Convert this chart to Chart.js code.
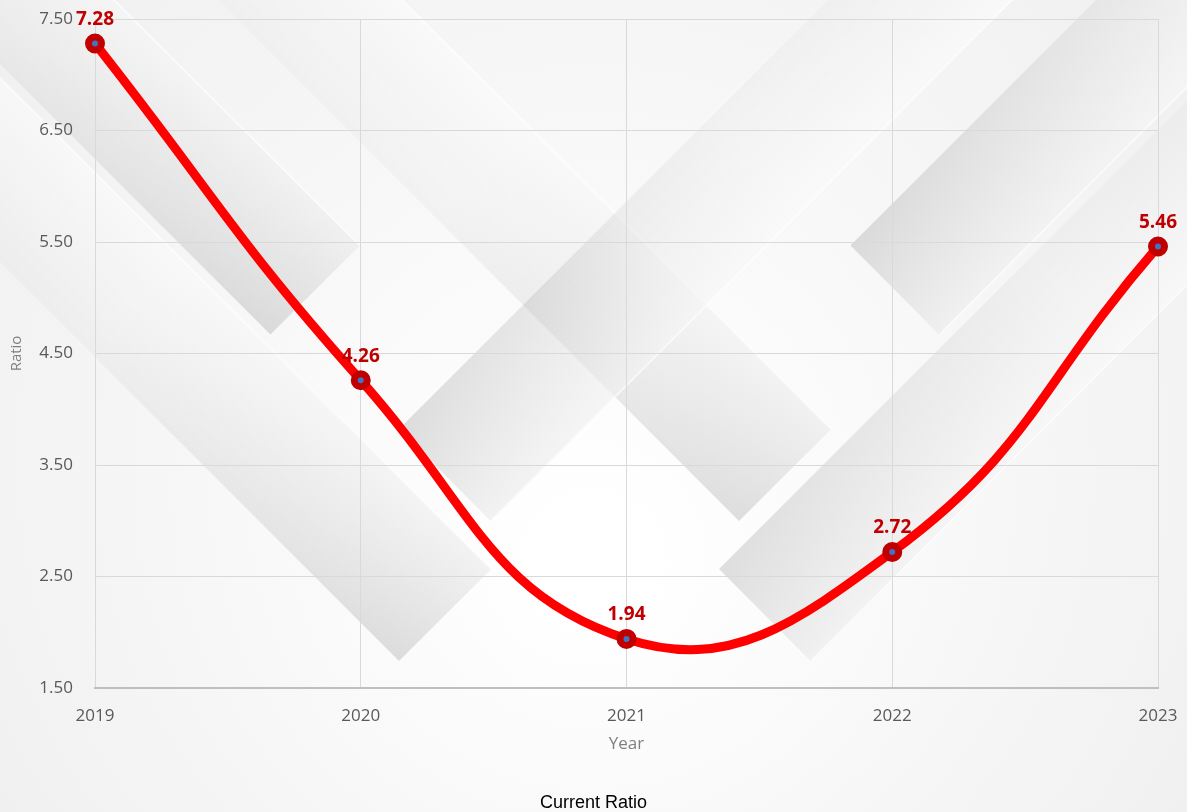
<!DOCTYPE html>
<html>
<head>
<meta charset="utf-8">
<script src="https://cdn.jsdelivr.net/npm/chart.js@4/dist/chart.umd.min.js"></script>
<style>
  html, body { margin: 0; padding: 0; background: #f6f6f6; }
  #wrap { width: 1187px; height: 812px; }
</style>
</head>
<body>
<div id="wrap"><canvas id="ratioChart"></canvas></div>
<script>
const years = ["2019", "2020", "2021", "2022", "2023"];
const currentRatio = [7.28, 4.26, 1.94, 2.72, 5.46];
const yMin = 1.5;
const yMax = 7.5;
const yStep = 1;

// diagonal bands behind the plot: [end x, end y, direction (deg), width]
const bands = [
  [315, 290, 45, 126],
  [445, 615, 45, 130],
  [785, 475, 45, 130],
  [895, 290, 135, 126],
  [765, 615, 135, 130],
  [445, 475, 135, 130]
];

const backdrop = {
  id: "backdrop",
  beforeDraw(chart) {
    const { ctx, width, height } = chart;
    ctx.save();
    const base = ctx.createRadialGradient(width / 2, height * 0.7, 50, width / 2, height / 2, 800);
    base.addColorStop(0, "#ffffff");
    base.addColorStop(1, "#eeeeee");
    ctx.fillStyle = base;
    ctx.fillRect(0, 0, width, height);

    bands.forEach(([x, y, deg, w]) => {
      const len = 1100;
      ctx.save();
      ctx.translate(x, y);
      ctx.rotate(deg * Math.PI / 180);
      const g = ctx.createLinearGradient(-len, 0, 0, 0);
      g.addColorStop(0, "rgba(120,120,120,0)");
      g.addColorStop(0.6, "rgba(120,120,120,0.05)");
      g.addColorStop(1, "rgba(110,110,110,0.22)");
      ctx.fillStyle = g;
      ctx.fillRect(-len, -w / 2, len, w);
      const s = ctx.createLinearGradient(0, -w / 2, 0, w / 2);
      s.addColorStop(0, "rgba(255,255,255,0.6)");
      s.addColorStop(1, "rgba(255,255,255,0)");
      ctx.fillStyle = s;
      ctx.fillRect(-len, -w / 2, len, w);
      ctx.strokeStyle = "rgba(255,255,255,0.6)";
      ctx.lineWidth = 2;
      ctx.beginPath();
      ctx.moveTo(-len, -w / 2);
      ctx.lineTo(0, -w / 2);
      ctx.stroke();
      ctx.restore();
    });
    ctx.restore();
  }
};

// value labels above each point
const valueLabels = {
  id: "valueLabels",
  afterDatasetsDraw(chart) {
    const { ctx } = chart;
    const meta = chart.getDatasetMeta(0);
    ctx.save();
    ctx.font = "bold 19px 'Open Sans'";
    ctx.fillStyle = "#c00000";
    ctx.textAlign = "center";
    ctx.textBaseline = "middle";
    meta.data.forEach((pt, i) => {
      ctx.fillText(currentRatio[i].toFixed(2), pt.x, pt.y - 24);
    });
    ctx.restore();
  }
};

Chart.defaults.font.family = "'Open Sans', sans-serif";

new Chart(document.getElementById("ratioChart"), {
  type: "line",
  data: {
    labels: years,
    datasets: [{
      label: "Current Ratio",
      data: currentRatio,
      borderColor: "#ff0000",
      borderWidth: 9,
      tension: 0.45,
      pointRadius: 6.5,
      pointBorderWidth: 7,
      pointBackgroundColor: "#4472c4",
      pointBorderColor: "#c00000",
      fill: false
    }]
  },
  options: {
    responsive: true,
    maintainAspectRatio: false,
    animation: false,
    layout: { autoPadding: false, padding: { left: 0, right: 0, top: 19, bottom: 0 } },
    plugins: {
      legend: { display: false },
      tooltip: { enabled: false },
      title: {
        display: true,
        text: "Current Ratio",
        position: "bottom",
        color: "#000000",
        font: { family: "'Liberation Sans', Arial, sans-serif", size: 18, weight: "normal", lineHeight: 1 },
        padding: { top: 12, bottom: 0 }
      }
    },
    scales: {
      x: {
        offset: false,
        grid: { color: "#d9d9d9", lineWidth: 1, drawTicks: true, tickLength: 14, tickColor: "rgba(0,0,0,0)" },
        border: { color: "#bfbfbf", width: 2 },
        ticks: { color: "#595959", font: { size: 17 }, padding: 4 },
        title: {
          display: true,
          text: "Year",
          color: "#7f7f7f",
          font: { size: 17 },
          padding: { top: 10, bottom: 28 }
        },
        afterFit(s) { s.height = 94; }
      },
      y: {
        min: yMin,
        max: yMax,
        grid: { color: "#d9d9d9", lineWidth: 1, drawTicks: true, tickLength: 18, tickColor: "rgba(0,0,0,0)" },
        border: { display: false },
        ticks: {
          stepSize: yStep,
          color: "#595959",
          font: { size: 17 },
          padding: 4,
          callback: v => v.toFixed(2)
        },
        title: {
          display: true,
          text: "Ratio",
          color: "#7f7f7f",
          font: { size: 15 },
          padding: { top: 8, bottom: 0 }
        },
        afterFit(s) { s.width = 95; }
      },
      // empty strip on the right so the plot ends short of the edge
      rightGap: {
        position: "right",
        grid: { display: false },
        border: { display: false },
        ticks: { display: false },
        afterFit(s) { s.width = 29; }
      }
    }
  },
  plugins: [backdrop, valueLabels]
});
</script>
</body>
</html>
